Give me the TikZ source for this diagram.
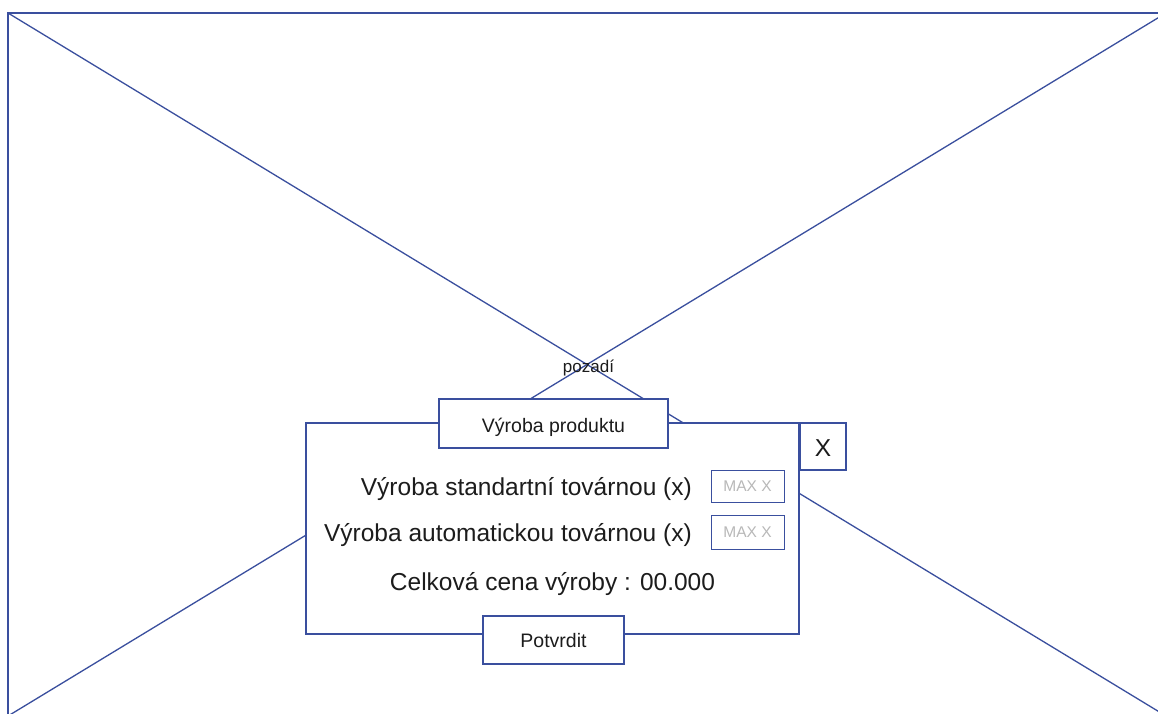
\documentclass[tikz,border=0pt]{standalone}
\usepackage{fontspec}
\setmainfont{Liberation Sans}
\definecolor{wire}{HTML}{3A4F9E}
\definecolor{ink}{HTML}{1C1C1C}
\definecolor{hint}{HTML}{B8B8B8}
\tikzset{
  frame/.style={draw=wire, line width=1.3pt, inner sep=0pt, outer sep=0pt},
  panel/.style={frame, fill=white},
  diag/.style={draw=wire, line width=1.3pt},
  big/.style={font=\fontsize{24.5}{29}\selectfont, text=ink, inner sep=0pt},
  mid/.style={font=\fontsize{19.5}{23}\selectfont, text=ink},
  small/.style={font=\fontsize{17}{20}\selectfont, text=ink, inner sep=0pt},
  hintbox/.style={panel, font=\fontsize{15.5}{18}\selectfont, text=hint, line width=1pt}
}
\begin{document}
\begin{tikzpicture}[x=1pt, y=-1pt]
\useasboundingbox (0,0) rectangle (1158,713);
\fill[white] (0,0) rectangle (1158,713);

% background image placeholder
\begin{scope}
  \clip (0,0) rectangle (1158,713);
  \node[frame, minimum width=1158pt, minimum height=703pt] (bg) at (587,364.5) {};
  \draw[diag] (bg.north west) -- (bg.south east);
  \draw[diag] (bg.south west) -- (bg.north east);
\end{scope}
\node[small, anchor=base] (bgname) at (588.5,372.5) {pozadí};

% dialog window
\node[panel, minimum width=493pt, minimum height=211pt] (dlg) at (552.5,528.5) {};
\node[panel, mid, minimum width=229pt, minimum height=49pt, text height=17pt, text depth=0pt] (head) at (553.5,423.5) {Výroba produktu};
\node[panel, big, minimum width=46pt, minimum height=47pt, text height=20pt, text depth=0pt] (close) at (823,446.5) {X};

% input rows
\node[big, anchor=base east] (rowA) at (692,495) {Výroba standartní továrnou (x)};
\node[hintbox, minimum width=73pt, minimum height=32pt, text height=11pt, text depth=0pt] (maxA) at (747.5,486) {MAX X};
\node[big, anchor=base east] (rowB) at (692,541.5) {Výroba automatickou továrnou (x)};
\node[hintbox, minimum width=73pt, minimum height=34pt, text height=11pt, text depth=0pt] (maxB) at (747.5,532) {MAX X};
\node[big, anchor=base] (total) at (552.5,590) {Celková cena výroby : 00.000};

% confirm button
\node[panel, mid, minimum width=141pt, minimum height=48pt, text height=15.5pt, text depth=0pt] (ok) at (553.5,640) {Potvrdit};
\end{tikzpicture}
\end{document}
